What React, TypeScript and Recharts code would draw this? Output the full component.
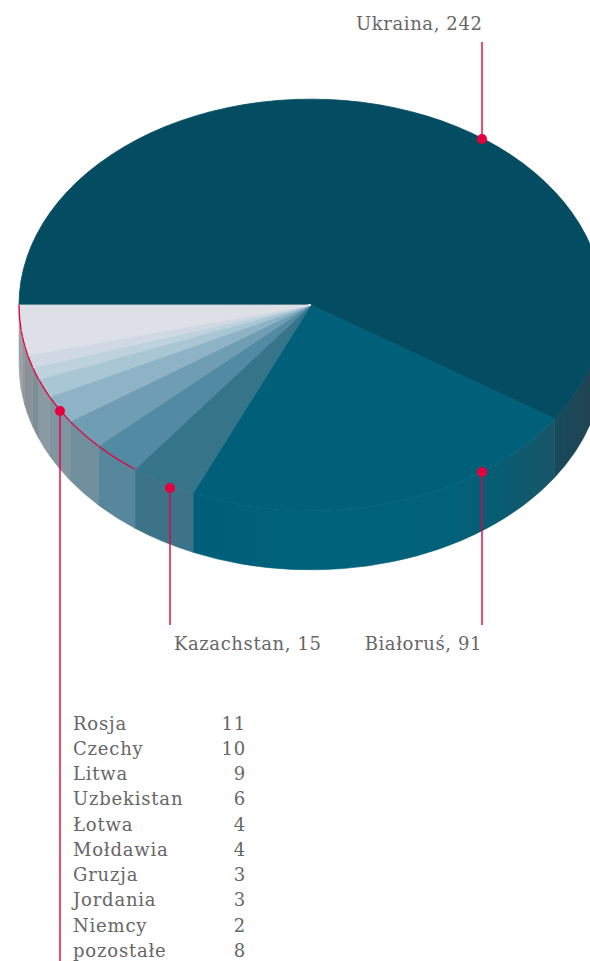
import { PieChart, Pie } from "recharts"

const names = ["Ukraina", "Białoruś", "Kazachstan", "Rosja", "Czechy", "Litwa", "Uzbekistan", "Łotwa", "Mołdawia", "Gruzja", "Jordania", "Niemcy", "pozostałe"]
const values = [242, 91, 15, 11, 10, 9, 6, 4, 4, 3, 3, 2, 8]
const topColors = ["#044c62", "#00607a", "#367489", "#528aa3", "#6f9db3", "#8fb3c6", "#a9c6d4", "#bed2de", "#d0d9e3", "#dde0e6", "#dde0e6", "#dde0e6", "#dde0e6"]
const wallColors = ["url(#wallUkraina)", "url(#wallBialorus)", "#3c7389", "#56879c", "#728f9d", "#7f95a1", "#8a9aa3", "#7e8e97", "#8a9198", "url(#wallRest)", "url(#wallRest)", "url(#wallRest)", "url(#wallRest)"]
const smallCount = 3 // Rosja i dalej idzie na liste pod wykresem

const data = names.map((name, i) => ({ name, value: values[i], fill: topColors[i], wall: wallColors[i], idx: i }))
const listNames = names.slice(3)
const listValues = values.slice(3)

const RED = "#e4003d"
const TEXT = "#666666"
const SQUASH = 0.705
const DEPTH = 59

function pt(cx: number, cy: number, r: number, a: number) {
  const rad = (a * Math.PI) / 180
  return [cx + r * Math.cos(rad), cy - r * SQUASH * Math.sin(rad)]
}

function TopSector(p: any) {
  const { cx, cy, outerRadius: r, startAngle, endAngle, fill, payload } = p
  const [x0, y0] = pt(cx, cy, r, startAngle)
  const [x1, y1] = pt(cx, cy, r, endAngle)
  const large = Math.abs(startAngle - endAngle) > 180 ? 1 : 0
  const ry = r * SQUASH
  const arc = `M${x0},${y0}A${r},${ry} 0 ${large} 1 ${x1},${y1}`
  const idx = payload?.idx ?? p.idx
  return (
    <g>
      <path d={`M${cx},${cy}L${x0},${y0}A${r},${ry} 0 ${large} 1 ${x1},${y1}Z`} fill={fill} stroke={fill} strokeWidth={0.8} />
      {idx >= smallCount && <path d={arc} fill="none" stroke={RED} strokeWidth={1.3} />}
    </g>
  )
}

function WallSector(p: any) {
  const { cx, cy, outerRadius: r, startAngle, endAngle, payload } = p
  const a0 = Math.min(startAngle, 0)
  if (endAngle >= a0) return <g />
  const [x0, y0] = pt(cx, cy, r, a0)
  const [x1, y1] = pt(cx, cy, r, endAngle)
  const ry = r * SQUASH
  const d = `M${x0},${y0}A${r},${ry} 0 0 1 ${x1},${y1}L${x1},${y1 + DEPTH}A${r},${ry} 0 0 0 ${x0},${y0 + DEPTH}Z`
  const wall = payload?.wall ?? p.wall
  return <path d={d} fill={wall} stroke={wall} strokeWidth={0.6} />
}

function Leader({ x, y1, y2, dotY }: { x: number; y1: number; y2: number; dotY: number }) {
  return (
    <g>
      <line x1={x} x2={x} y1={y1} y2={y2} stroke={RED} strokeWidth={1.4} />
      <circle cx={x} cy={dotY} r={5} fill={RED} />
    </g>
  )
}

const font = { fontFamily: "'DejaVu Serif'", fontSize: 18, fill: TEXT, letterSpacing: 0.6 }
const listFont = { ...font, letterSpacing: 0.8 }

export default function App() {
  return (
    <div style={{ position: "absolute", left: 0, top: 0, width: 590, height: 961, overflow: "hidden", background: "#fff" }}>
      <PieChart width={590} height={961} margin={{ top: 0, right: 0, bottom: 0, left: 0 }}>
        <defs>
          <linearGradient id="wallBialorus" gradientUnits="userSpaceOnUse" x1={193} x2={558} y1={0} y2={0}>
            <stop offset="0" stopColor="#005f78" />
            <stop offset="0.3" stopColor="#01627b" />
            <stop offset="0.7" stopColor="#01617a" />
            <stop offset="0.85" stopColor="#0a5c71" />
            <stop offset="1" stopColor="#1a5567" />
          </linearGradient>
          <linearGradient id="wallUkraina" gradientUnits="userSpaceOnUse" x1={557} x2={603} y1={0} y2={0}>
            <stop offset="0" stopColor="#174a5c" />
            <stop offset="1" stopColor="#24414f" />
          </linearGradient>
          <linearGradient id="wallRest" gradientUnits="userSpaceOnUse" x1={19} x2={36} y1={0} y2={0}>
            <stop offset="0" stopColor="#a0a6ab" />
            <stop offset="0.5" stopColor="#858c92" />
            <stop offset="1" stopColor="#8f969c" />
          </linearGradient>
        </defs>
        <Pie data={data} dataKey="value" nameKey="name" cx={311} cy={305} outerRadius={292} startAngle={180} endAngle={-180} stroke="none" isAnimationActive={false} shape={WallSector} />
        <Pie data={data} dataKey="value" nameKey="name" cx={311} cy={305} outerRadius={292} startAngle={180} endAngle={-180} stroke="none" isAnimationActive={false} shape={TopSector} />
      </PieChart>

      {/* odnosniki i podpisy na wierzchu, bo Pie rysuje sie nad dziecmi wykresu */}
      <svg width={590} height={961} style={{ position: "absolute", left: 0, top: 0 }}>
        <Leader x={482} y1={42} y2={139} dotY={139} />
        <Leader x={482} y1={472} y2={625} dotY={472} />
        <Leader x={170} y1={488} y2={625} dotY={488} />
        <Leader x={60} y1={411} y2={961} dotY={411} />

        <text x={482.5} y={30} textAnchor="end" {...font}>{`${names[0]}, ${values[0]}`}</text>
        <text x={482} y={650} textAnchor="end" {...font}>{`${names[1]}, ${values[1]}`}</text>
        <text x={321.5} y={650} textAnchor="end" {...font}>{`${names[2]}, ${values[2]}`}</text>

        {listNames.map((n, i) => (
          <g key={n}>
            <text x={73} y={729.5 + i * 25.25} {...listFont}>{n}</text>
            <text x={246} y={729.5 + i * 25.25} textAnchor="end" {...listFont}>{listValues[i]}</text>
          </g>
        ))}
      </svg>
    </div>
  )
}
